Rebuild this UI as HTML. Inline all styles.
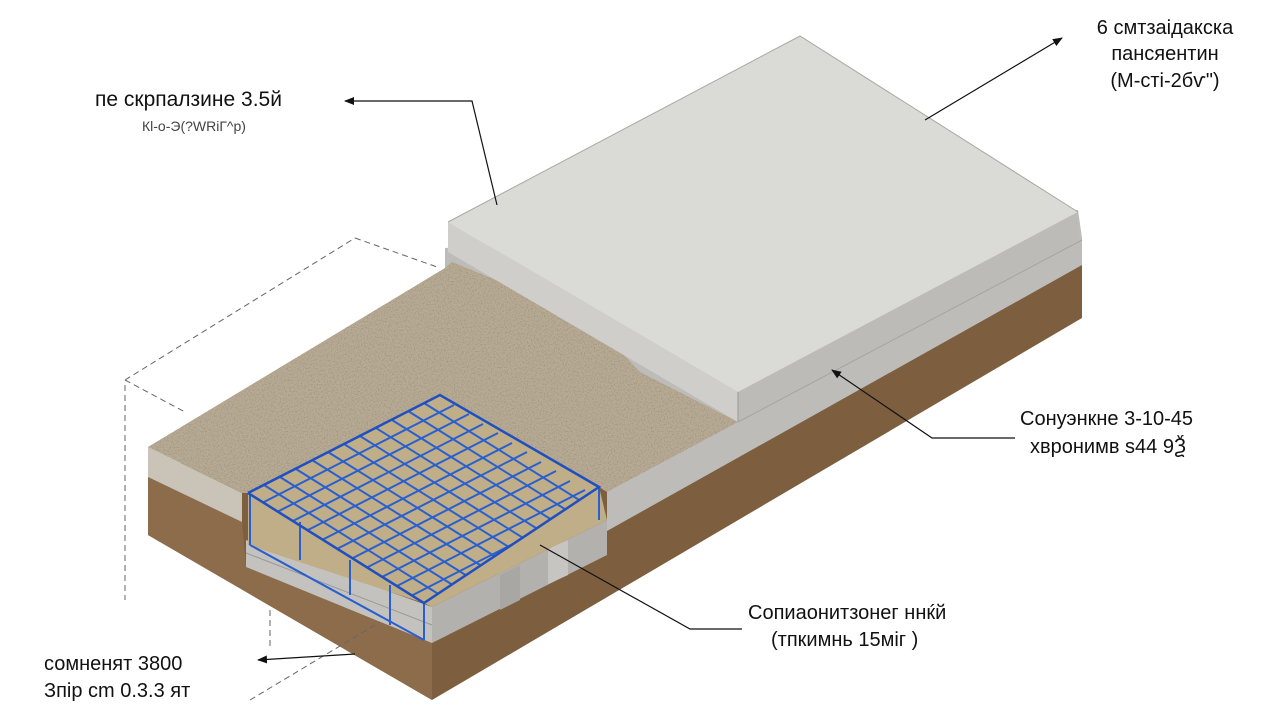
<!DOCTYPE html>
<html><head><meta charset="utf-8"><style>
html,body{margin:0;padding:0;background:#fff;}
svg{display:block}
text{font-family:"Liberation Sans","DejaVu Sans",sans-serif;fill:#111}
</style></head><body>
<svg width="1280" height="720" viewBox="0 0 1280 720" xmlns="http://www.w3.org/2000/svg">
<defs>
<filter id="grain" x="0" y="0" width="100%" height="100%">
<feTurbulence type="fractalNoise" baseFrequency="0.7" numOctaves="2" seed="3" result="n"/>
<feColorMatrix in="n" type="matrix" values="0 0 0 0 0.3  0 0 0 0 0.27  0 0 0 0 0.22  0 0 0 2.2 -1.0" result="d"/>
<feComposite in="d" in2="SourceGraphic" operator="in" result="m"/>
<feMerge><feMergeNode in="SourceGraphic"/><feMergeNode in="m"/></feMerge>
</filter>
<marker id="ah" markerWidth="10" markerHeight="8" refX="9" refY="4" orient="auto" markerUnits="userSpaceOnUse">
<path d="M0,0 L10,4 L0,8 z" fill="#111"/></marker>
<clipPath id="meshclip"><polygon points="248,493 440,395 599,487 424,603"/></clipPath>
</defs>

<!-- brown soil -->
<polygon points="148,470 1082,262 1082,318 432,700 148,535" fill="#7d5f40"/>
<polygon points="148,477 242,522 246,567 432,643 432,700 148,535" fill="#8c6c4b"/>
<!-- gray layer under slab & right of pit -->
<polygon points="445,248 1078,210 1082,238 1082,265 607,531 607,490 445,268" fill="#bdbcb9"/>
<!-- gravel front-left face -->
<polygon points="148,447 242,493 242,522 148,477" fill="#c9c3b8"/>
<!-- gravel top -->
<polygon points="148,447 445,268 452,262 520,290 560,318 600,330 640,372 738,422 607,492 599,487 440,395 248,493 242,493" fill="#b8aa93" filter="url(#grain)"/>
<!-- slab -->
<polygon points="448,222 800,36 1078,212 738,392" fill="#dadad7"/>
<polygon points="448,222 738,392 738,422 448,252" fill="#cfcecb"/>
<polygon points="738,392 1078,212 1078,240 738,422" fill="#bcbbb7"/>
<polyline points="448,222 800,36 1078,212" fill="none" stroke="#a9a8a4" stroke-width="1"/>
<line x1="738" y1="392" x2="738" y2="422" stroke="#999" stroke-width="1"/>
<line x1="738" y1="422" x2="1082" y2="240" stroke="#a5a4a0" stroke-width="1"/>

<!-- pit box -->
<polygon points="246,540 432,607 432,643 246,567" fill="#c3c2be"/>
<line x1="246" y1="553" x2="432" y2="625" stroke="#999" stroke-width="1"/>
<polygon points="432,607 607,520 607,555 432,643" fill="#b2b1ad"/>
<polygon points="500,575 520,565 520,600 500,610" fill="#a8a7a3"/>
<polygon points="548,548 568,540 568,575 548,584" fill="#c6c5c1"/>
<!-- mesh area -->
<polygon points="248,493 440,395 599,487 607,520 432,607 424,603 248,545" fill="#bfae88"/>
<g clip-path="url(#meshclip)" stroke="#2a5fd0" stroke-width="2" fill="none">
<line x1="248" y1="493" x2="424" y2="603"/><line x1="264" y1="485" x2="440" y2="595"/><line x1="280" y1="477" x2="456" y2="587"/><line x1="296" y1="469" x2="472" y2="579"/><line x1="312" y1="460" x2="488" y2="570"/><line x1="328" y1="452" x2="504" y2="562"/><line x1="344" y1="444" x2="520" y2="554"/><line x1="360" y1="436" x2="536" y2="546"/><line x1="376" y1="428" x2="552" y2="538"/><line x1="392" y1="420" x2="568" y2="530"/><line x1="408" y1="411" x2="584" y2="521"/><line x1="424" y1="403" x2="600" y2="513"/>
<line x1="248" y1="493" x2="440" y2="395"/><line x1="262" y1="503" x2="454" y2="405"/><line x1="277" y1="512" x2="469" y2="414"/><line x1="291" y1="522" x2="483" y2="424"/><line x1="306" y1="531" x2="498" y2="433"/><line x1="320" y1="541" x2="512" y2="443"/><line x1="335" y1="550" x2="527" y2="452"/><line x1="349" y1="560" x2="541" y2="462"/><line x1="364" y1="569" x2="556" y2="471"/><line x1="378" y1="579" x2="570" y2="481"/><line x1="393" y1="588" x2="585" y2="490"/><line x1="407" y1="598" x2="599" y2="500"/>
</g>
<g stroke="#2a5fd0" stroke-width="2" fill="none">
<line x1="250" y1="495" x2="250" y2="545"/><line x1="424" y1="603" x2="424" y2="640"/><line x1="599" y1="487" x2="599" y2="520"/>
<line x1="300" y1="522" x2="300" y2="560"/><line x1="350" y1="560" x2="350" y2="595"/><line x1="390" y1="585" x2="390" y2="625"/>
<line x1="250" y1="545" x2="424" y2="640"/>
</g>
<polyline points="248,493 440,395 599,487 424,603 248,493" fill="none" stroke="#1f4fc0" stroke-width="2.5"/>

<!-- dimension dashed lines -->
<g stroke="#666" stroke-width="1" stroke-dasharray="6,4" fill="none">
<line x1="125" y1="380" x2="355" y2="238"/><line x1="355" y1="238" x2="440" y2="268"/>
<line x1="125" y1="380" x2="185" y2="412"/>
<line x1="125" y1="385" x2="125" y2="600"/>
<line x1="250" y1="700" x2="380" y2="622"/>
<line x1="270" y1="610" x2="270" y2="650"/>
</g>

<!-- leaders -->
<g stroke="#111" stroke-width="1.2" fill="none">
<polyline points="497,205 472,101 345,101" marker-end="url(#ah)"/>
<line x1="925" y1="120" x2="1062" y2="38" marker-end="url(#ah)"/>
<polyline points="1015,438 932,438 832,370" marker-end="url(#ah)"/>
<polyline points="742,629 690,629 540,545"/>
<line x1="355" y1="654" x2="258" y2="660" marker-end="url(#ah)"/>
</g>

<!-- labels -->
<text x="95" y="106" font-size="21">пе скрпалзине 3.5й</text>
<text x="142" y="131" font-size="14" style="fill:#444">Кl-o-Э(?WRiГ^р)</text>
<text x="1165" y="34" font-size="20" text-anchor="middle">6 смтзаідакска</text>
<text x="1165" y="60" font-size="20" text-anchor="middle">пансяентин</text>
<text x="1165" y="87" font-size="20" text-anchor="middle">(М-сті-2бѵ")</text>
<text x="1020" y="425" font-size="20">Сонуэнкне 3-10-45</text>
<text x="1030" y="453" font-size="20">хвронимв ѕ44 9Ѯ</text>
<text x="748" y="619" font-size="20">Сопиаонитзонег ннќй</text>
<text x="771" y="646" font-size="20">(тпкимнь 15міг )</text>
<text x="44" y="670" font-size="20">сомненят 3800</text>
<text x="44" y="697" font-size="20">Зпір сm 0.3.3 ят</text>
</svg>
</body></html>
